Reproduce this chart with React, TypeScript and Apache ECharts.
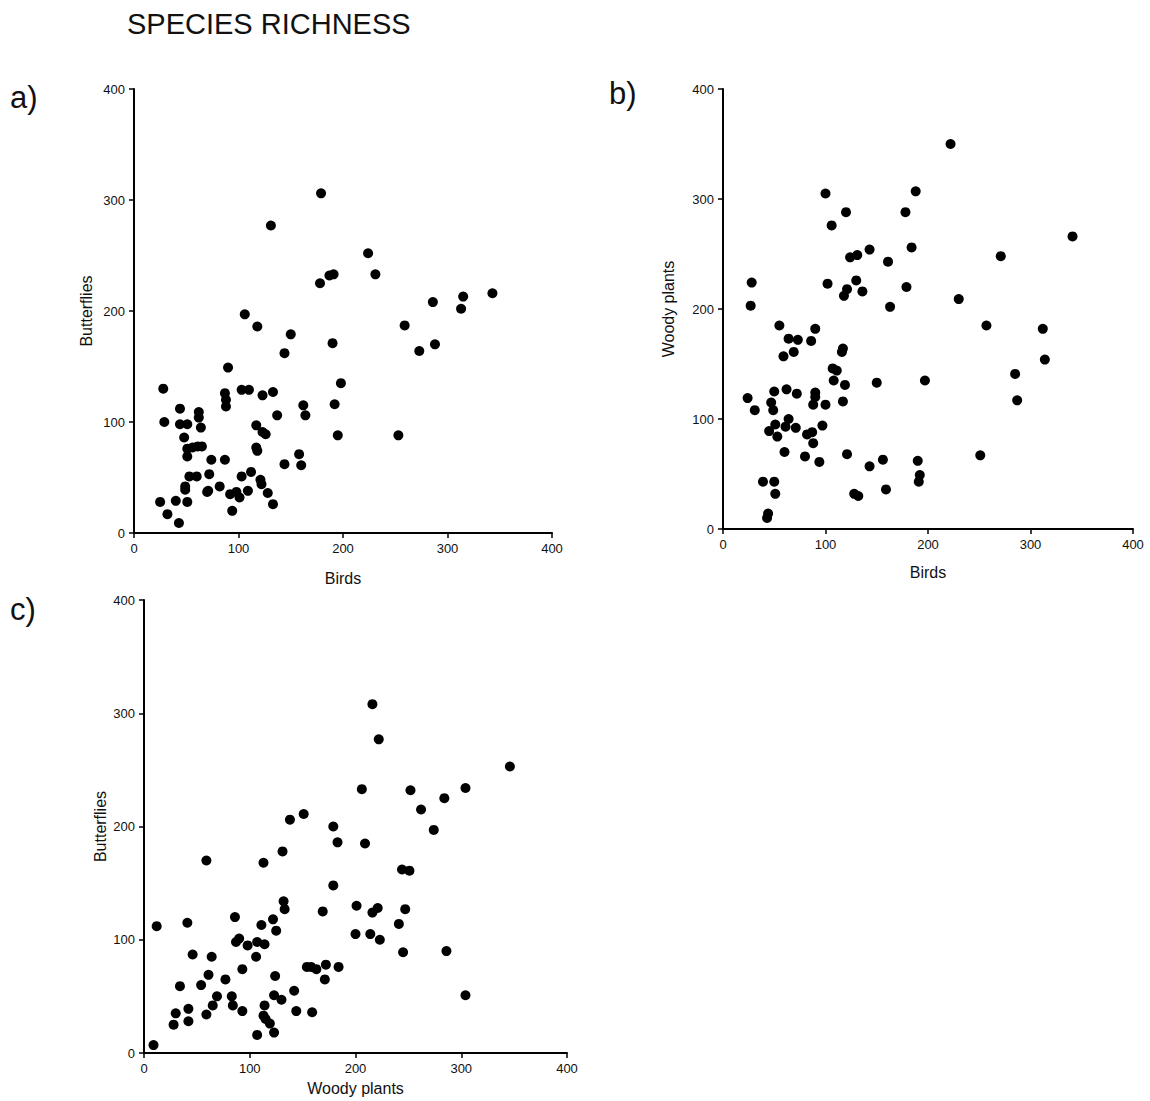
import React, { useEffect, useRef } from "react";
import * as echarts from "echarts";

// Panel a: Birds (x) vs Butterflies (y)
const aBirdsButterflies: [number, number][] = [
  [179, 306], [131, 277], [178, 225], [187, 232], [191, 233], [106, 197], [118, 186], [150, 179],
  [144, 162], [190, 171], [198, 135], [90, 149], [28, 130], [103, 129], [110, 129], [123, 124],
  [133, 127], [87, 126], [88, 120], [88, 114], [44, 112], [62, 109], [62, 104], [137, 106],
  [162, 115], [164, 106], [192, 116], [29, 100], [44, 98], [51, 98], [64, 95], [117, 97],
  [123, 91], [126, 89], [195, 88], [48, 86], [51, 76], [51, 69], [56, 77], [61, 78], [65, 78],
  [117, 77], [118, 74], [74, 66], [87, 66], [158, 71], [160, 61], [144, 62], [53, 51], [60, 51],
  [72, 53], [103, 51], [112, 55], [121, 48], [122, 44], [128, 36], [133, 26], [49, 42], [49, 39],
  [71, 38], [70, 37], [82, 42], [92, 35], [98, 37], [101, 32], [94, 20], [109, 38], [25, 28],
  [32, 17], [40, 29], [51, 28], [43, 9],
  [224, 252], [231, 233], [315, 213], [313, 202], [343, 216], [286, 208], [259, 187], [273, 164],
  [288, 170], [253, 88],
];

// Panel b: Birds (x) vs Woody plants (y)
const bBirdsWoody: [number, number][] = [
  [100, 305], [120, 288], [106, 276], [178, 288], [188, 307], [184, 256], [124, 247], [131, 249],
  [143, 254], [161, 243], [28, 224], [102, 223], [130, 226], [136, 216], [121, 218], [118, 212],
  [179, 220], [163, 202], [27, 203], [55, 185], [90, 182], [64, 173], [73, 172], [86, 171],
  [59, 157], [69, 161], [117, 164], [116, 161], [107, 146], [111, 144], [108, 135], [119, 131],
  [150, 133], [197, 135], [24, 119], [31, 108], [50, 125], [62, 127], [72, 123], [90, 124],
  [90, 120], [88, 113], [100, 113], [117, 116], [47, 115], [49, 108], [64, 100], [61, 93],
  [71, 92], [45, 89], [51, 95], [53, 84], [82, 86], [87, 88], [88, 78], [97, 94], [60, 70],
  [80, 66], [94, 61], [121, 68], [143, 57], [156, 63], [159, 36], [128, 32], [132, 30], [190, 62],
  [192, 49], [191, 43], [39, 43], [50, 43], [51, 32], [44, 14], [43, 10],
  [222, 350], [341, 266], [271, 248], [230, 209], [257, 185], [312, 182], [314, 154], [285, 141],
  [287, 117], [251, 67],
];

// Panel c: Woody plants (x) vs Butterflies (y)
const cWoodyButterflies: [number, number][] = [
  [138, 206], [151, 211], [179, 200], [183, 186], [131, 178], [59, 170], [113, 168], [179, 148],
  [132, 134], [133, 127], [169, 125], [12, 112], [41, 115], [86, 120], [122, 118], [111, 113],
  [125, 108], [90, 101], [87, 98], [98, 95], [107, 98], [114, 96], [106, 85], [46, 87], [64, 85],
  [93, 74], [61, 69], [77, 65], [34, 59], [54, 60], [124, 68], [69, 50], [83, 50], [84, 42],
  [65, 42], [59, 34], [93, 37], [123, 51], [130, 47], [142, 55], [144, 37], [159, 36], [114, 42],
  [113, 33], [115, 30], [119, 26], [123, 18], [107, 16], [30, 35], [28, 25], [42, 39], [42, 28],
  [9, 7], [154, 76], [158, 76], [163, 74], [172, 78], [184, 76], [171, 65],
  [216, 308], [222, 277], [346, 253], [206, 233], [252, 232], [304, 234], [284, 225], [262, 215],
  [274, 197], [209, 185], [244, 162], [251, 161], [201, 130], [216, 124], [221, 128], [247, 127],
  [241, 114], [200, 105], [214, 105], [223, 100], [245, 89], [286, 90], [304, 51],
];

const titleText = "SPECIES RICHNESS";
const panelLabels = ["a)", "b)", "c)"];
const xNames = ["Birds", "Birds", "Woody plants"];
const yNames = ["Butterflies", "Woody plants", "Butterflies"];
const axisMin = 0;
const axisMax = 400;
const axisInterval = 100;

const FONT = "'Liberation Sans', Arial, sans-serif";

export default function App() {
  const ref = useRef<HTMLDivElement>(null);

  useEffect(() => {
    if (!ref.current) return;
    const chart = echarts.init(ref.current, null, { renderer: "svg" });

    const grids = [
      { left: 134, top: 89, width: 418, height: 444 },
      { left: 723, top: 89, width: 410, height: 440 },
      { left: 144, top: 600, width: 423, height: 453 },
    ];
    const xNameGaps = [37, 35, 27];
    const yNameGaps = [40, 47, 36];

    const axisCommon = {
      type: "value" as const,
      min: axisMin,
      max: axisMax,
      interval: axisInterval,
      splitLine: { show: false },
      axisLine: { show: true, onZero: false, lineStyle: { color: "#000", width: 2 } },
      axisTick: { show: true, length: 5, lineStyle: { color: "#000", width: 1.5 } },
      axisLabel: { color: "#111", fontSize: 13, fontFamily: FONT, margin: 9 },
      nameTextStyle: { color: "#111", fontSize: 16, fontFamily: FONT },
      nameLocation: "middle" as const,
    };

    const datasets = [aBirdsButterflies, bBirdsWoody, cWoodyButterflies];

    chart.setOption({
      animation: false,
      backgroundColor: "#fff",
      grid: grids,
      xAxis: grids.map((_, i) => ({
        ...axisCommon,
        gridIndex: i,
        position: "bottom",
        name: xNames[i],
        nameGap: xNameGaps[i],
      })),
      yAxis: grids.map((_, i) => ({
        ...axisCommon,
        gridIndex: i,
        position: "left",
        name: yNames[i],
        nameGap: yNameGaps[i],
        nameRotate: 90,
      })),
      series: datasets.map((d, i) => ({
        type: "scatter",
        xAxisIndex: i,
        yAxisIndex: i,
        data: d,
        symbol: "circle",
        symbolSize: 10,
        itemStyle: { color: "#000", opacity: 1 },
      })),
      graphic: [
        {
          type: "text",
          left: 127,
          top: 9,
          style: { text: titleText, font: `29px ${FONT}`, fill: "#111" },
        },
        {
          type: "text",
          left: 10,
          top: 82,
          style: { text: panelLabels[0], font: `31px ${FONT}`, fill: "#111" },
        },
        {
          type: "text",
          left: 609,
          top: 78,
          style: { text: panelLabels[1], font: `31px ${FONT}`, fill: "#111" },
        },
        {
          type: "text",
          left: 10,
          top: 594,
          style: { text: panelLabels[2], font: `31px ${FONT}`, fill: "#111" },
        },
      ],
    });

    return () => chart.dispose();
  }, []);

  return (
    <div
      ref={ref}
      style={{ position: "absolute", left: 0, top: 0, width: 1150, height: 1101, background: "#fff" }}
    />
  );
}
